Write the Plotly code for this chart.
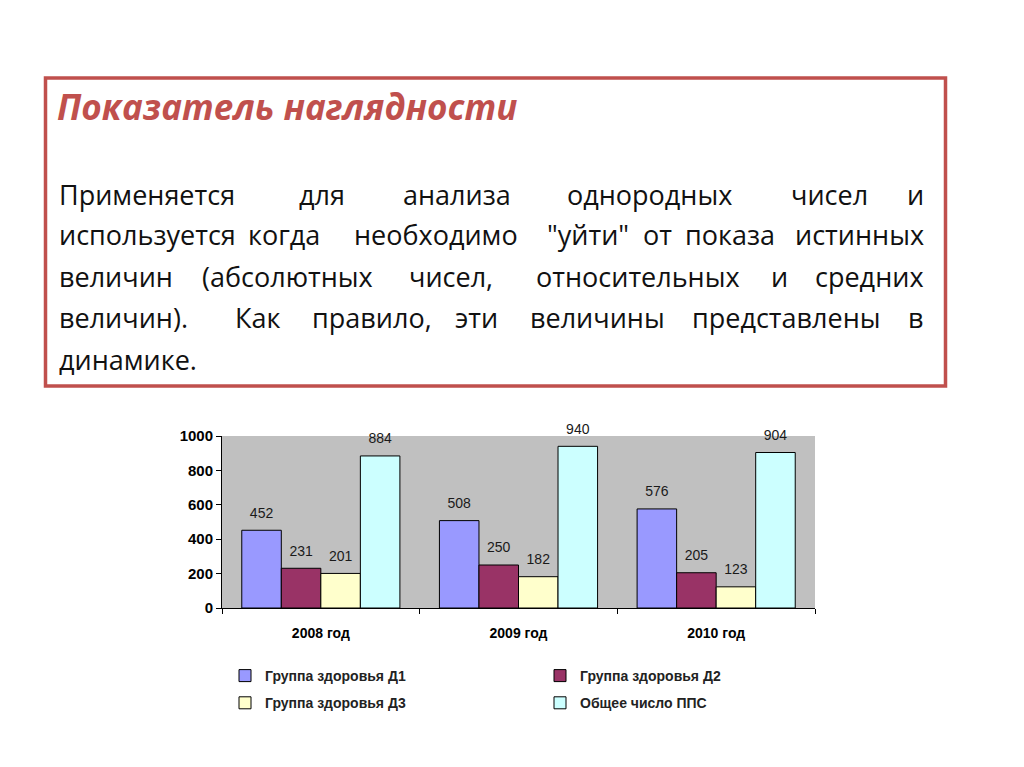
import plotly.graph_objects as go

W, H = 1024, 767
OFF = 8  # page body margin of the browser

# ---------------- data ----------------
years = ["2008 год", "2009 год", "2010 год"]
series_names = ["Группа здоровья Д1", "Группа здоровья Д2", "Группа здоровья Д3", "Общее число ППС"]
d1_values = [452, 508, 576]
d2_values = [231, 250, 205]
d3_values = [201, 182, 123]
pps_values = [884, 940, 904]
y_tick_values = [0, 200, 400, 600, 800, 1000]

title_text = "Показатель наглядности"
# body text: words per line (justified in the original)
body_lines = [
    [("Применяется", 57, "left"), ("для", 322, "center"), ("анализа", 457, "center"),
     ("однородных", 649, "center"), ("чисел", 829, "center"), ("и", 926, "right")],
    [("используется", 57, "left"), ("когда", 284, "center"), ("необходимо", 436, "center"),
     ("\"уйти\"", 588, "center"), ("от", 657, "center"), ("показа", 730, "center"),
     ("истинных", 926, "right")],
    [("величин", 57, "left"), ("(абсолютных", 287, "center"), ("чисел,", 451, "center"),
     ("относительных", 638, "center"), ("и", 779, "center"), ("средних", 926, "right")],
    [("величин).", 57, "left"), ("Как", 257, "center"), ("правило,", 372, "center"),
     ("эти", 476, "center"), ("величины", 597, "center"), ("представлены", 786, "center"),
     ("в", 926, "right")],
    [("динамике.", 57, "left")],
]
line_y = [194, 235, 276, 317, 359]

# ---------------- styles ----------------
colors = ["#9999ff", "#993366", "#ffffcc", "#ccffff"]
legend_ids = ["legend", "legend2", "legend", "legend2"]
RED = "#c0504d"
BODY_FONT = "Open Sans, Noto Sans, sans-serif"
CHART_FONT = "Liberation Sans, Arial, sans-serif"


def px(x):
    return (x - OFF) / W


def py(y):
    return 1 - (y - OFF) / H


fig = go.Figure()
all_values = [d1_values, d2_values, d3_values, pps_values]
for name, vals, col, lg in zip(series_names, all_values, colors, legend_ids):
    fig.add_trace(go.Bar(
        x=years, y=vals, name=name, legend=lg, legendgroup=name,
        marker=dict(color=col, line=dict(color="#000000", width=1)),
    ))
for name, vals in zip(series_names, all_values):
    fig.add_trace(go.Scatter(
        x=years, y=vals, mode="markers+text", text=[str(v) for v in vals],
        textposition="top center", showlegend=False, cliponaxis=False,
        marker=dict(size=13, opacity=0), hoverinfo="skip",
        textfont=dict(family=CHART_FONT, size=14, color="#1a1a1a"),
    ))

legend_font = dict(family=CHART_FONT, size=14, color="#222222", weight="bold")
fig.update_layout(
    width=W, height=H,
    margin=dict(l=0, r=0, t=0, b=0, autoexpand=False),
    paper_bgcolor="white", plot_bgcolor="#c0c0c0",
    barmode="group", bargap=0.2, bargroupgap=0,
    scattermode="group", scattergap=0.2,
    showlegend=True,
    xaxis=dict(
        domain=[px(222), px(815)], type="category",
        showline=True, linecolor="#000000", linewidth=1,
        ticks="outside", tickson="boundaries", ticklen=5, tickcolor="#000000",
        showgrid=False, zeroline=False, tickangle=0,
        tickfont=dict(family=CHART_FONT, size=14, color="#000000", weight="bold"),
        ticklabelstandoff=12,
    ),
    yaxis=dict(
        domain=[py(608), py(436)], range=[0, 1000],
        tickvals=y_tick_values,
        showline=True, linecolor="#000000", linewidth=1,
        ticks="outside", ticklen=5, tickcolor="#000000",
        showgrid=False, zeroline=False,
        tickfont=dict(family=CHART_FONT, size=15, color="#000000", weight="bold"),
    ),
    legend=dict(
        xref="container", yref="container", x=px(225), y=py(660),
        xanchor="left", yanchor="top", orientation="v",
        font=legend_font, bgcolor="rgba(0,0,0,0)", tracegroupgap=6,
    ),
    legend2=dict(
        xref="container", yref="container", x=px(540), y=py(660),
        xanchor="left", yanchor="top", orientation="v",
        font=legend_font, bgcolor="rgba(0,0,0,0)", tracegroupgap=6,
    ),
)

# red framed text box
fig.add_shape(type="rect", xref="paper", yref="paper",
              x0=px(45.5), x1=px(945.5), y0=py(78), y1=py(386),
              line=dict(color=RED, width=3.5), fillcolor="rgba(0,0,0,0)", layer="below")

fig.add_annotation(
    text="<b><i>" + title_text + "</i></b>", xref="paper", yref="paper",
    x=px(55), y=py(106), xanchor="left", yanchor="middle", showarrow=False,
    font=dict(family=BODY_FONT, size=35, color=RED),
)

for words, yv in zip(body_lines, line_y):
    for word, xv, anchor in words:
        fig.add_annotation(
            text=word, xref="paper", yref="paper", x=px(xv), y=py(yv),
            xanchor=anchor, yanchor="middle", showarrow=False,
            font=dict(family=BODY_FONT, size=27, color="#111111"),
        )

fig.write_html("out.html")
